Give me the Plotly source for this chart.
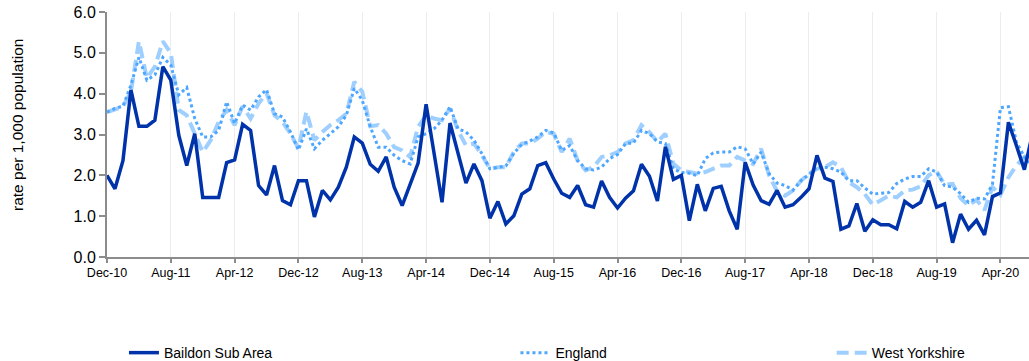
import pandas as pd
import plotly.graph_objects as go

months = list(pd.date_range("2010-12-01", periods=117, freq="MS").strftime("%b-%y"))

tick_labels = ["Dec-10", "Aug-11", "Apr-12", "Dec-12", "Aug-13", "Apr-14", "Dec-14", "Aug-15",
               "Apr-16", "Dec-16", "Aug-17", "Apr-18", "Dec-18", "Aug-19", "Apr-20"]

baildon = [2.00, 1.67, 2.36, 4.09, 3.20, 3.20, 3.35, 4.66, 4.33, 2.98, 2.24, 3.02, 1.46, 1.46, 1.46, 2.31,
           2.38, 3.25, 3.10, 1.75, 1.52, 2.24, 1.38, 1.28, 1.87, 1.87, 0.98, 1.63, 1.40, 1.71, 2.20, 2.94,
           2.79, 2.27, 2.10, 2.45, 1.71, 1.26, 1.79, 2.30, 3.74, 2.57, 1.34, 3.28, 2.57, 1.81, 2.28, 1.87,
           0.95, 1.36, 0.81, 1.01, 1.54, 1.67, 2.24, 2.31, 1.91, 1.56, 1.46, 1.75, 1.28, 1.22, 1.86, 1.46,
           1.20, 1.44, 1.62, 2.27, 1.98, 1.37, 2.70, 1.90, 2.00, 0.89, 1.78, 1.13, 1.68, 1.73, 1.13, 0.68,
           2.32, 1.76, 1.38, 1.29, 1.63, 1.22, 1.28, 1.46, 1.67, 2.49, 1.93, 1.85, 0.68, 0.76, 1.31, 0.63,
           0.91, 0.79, 0.79, 0.69, 1.36, 1.22, 1.34, 1.87, 1.22, 1.30, 0.35, 1.05, 0.68, 0.90, 0.54, 1.48,
           1.57, 3.30, 2.73, 2.14, 3.00]

england = [3.55, 3.64, 3.69, 4.21, 4.89, 4.33, 4.46, 4.89, 4.70, 3.97, 4.15, 3.39, 2.94, 2.94, 3.10, 3.80,
           3.27, 3.72, 3.60, 3.92, 4.10, 3.51, 3.43, 3.06, 2.62, 3.14, 2.65, 2.86, 3.02, 3.19, 3.47, 4.13,
           3.84, 3.19, 2.69, 2.69, 2.49, 2.36, 2.28, 2.94, 3.02, 3.14, 3.35, 3.68, 3.14, 3.06, 2.86, 2.53,
           2.16, 2.20, 2.23, 2.54, 2.76, 2.84, 2.94, 3.10, 3.04, 2.61, 2.73, 2.36, 2.16, 2.13, 2.20, 2.41,
           2.51, 2.78, 2.79, 3.10, 3.02, 2.82, 2.78, 2.16, 2.07, 2.05, 1.99, 2.41, 2.55, 2.57, 2.57, 2.70,
           2.65, 2.28, 2.57, 2.04, 1.81, 1.75, 1.64, 1.87, 2.02, 2.20, 2.20, 2.16, 2.08, 1.87, 1.87, 1.69,
           1.54, 1.56, 1.58, 1.80, 1.91, 1.97, 1.97, 2.16, 2.08, 1.75, 1.71, 1.55, 1.34, 1.44, 1.42, 1.78,
           3.66, 3.68, 2.82, 2.45, 2.25]

west_yorkshire = [3.55, 3.62, 3.68, 4.05, 5.28, 4.38, 4.66, 5.28, 4.99, 3.60, 3.47, 3.02, 2.57, 2.86, 3.31, 3.60,
                  3.23, 3.69, 3.39, 3.76, 4.01, 3.47, 3.31, 3.02, 2.66, 3.56, 2.86, 3.06, 3.23, 3.35, 3.51, 4.29,
                  4.05, 3.20, 3.23, 3.02, 2.69, 2.61, 2.45, 3.19, 3.47, 3.39, 3.35, 3.64, 3.10, 2.73, 2.78, 2.49,
                  2.16, 2.20, 2.20, 2.58, 2.78, 2.78, 2.90, 3.06, 3.02, 2.57, 2.90, 2.36, 2.12, 2.20, 2.45, 2.49,
                  2.57, 2.78, 2.86, 3.23, 3.06, 2.82, 3.02, 2.28, 2.12, 2.08, 2.04, 2.08, 2.16, 2.24, 2.24, 2.45,
                  2.36, 2.28, 2.65, 2.00, 1.61, 1.50, 1.63, 1.87, 2.04, 2.16, 2.20, 2.32, 2.20, 1.83, 1.71, 1.54,
                  1.28, 1.38, 1.50, 1.46, 1.63, 1.65, 1.73, 2.00, 2.10, 1.77, 1.79, 1.44, 1.26, 1.40, 1.15, 1.71,
                  1.52, 1.95, 2.24, 2.45, 2.60]

FONT = "Liberation Sans, Arial, sans-serif"

fig = go.Figure()
fig.add_trace(go.Scatter(x=months, y=west_yorkshire, name="West Yorkshire", mode="lines",
                         line=dict(color="#9fcfff", width=4, dash="12px,6px"), legend="legend3"))
fig.add_trace(go.Scatter(x=months, y=england, name="England", mode="lines",
                         line=dict(color="#4da6ff", width=3, dash="dot"), legend="legend2"))
fig.add_trace(go.Scatter(x=months, y=baildon, name="Baildon Sub Area", mode="lines",
                         line=dict(color="#0033aa", width=3.5), legend="legend"))

leg_common = dict(orientation="h", yanchor="middle", y=-0.392, xanchor="left",
                  font=dict(family=FONT, size=14, color="#000"), bgcolor="rgba(0,0,0,0)")

fig.update_layout(
    width=1029, height=361, autosize=False,
    showlegend=True,
    margin=dict(l=107, r=0, t=12, b=104, autoexpand=False),
    paper_bgcolor="white", plot_bgcolor="white",
    font=dict(family=FONT, color="#000"),
    legend=dict(x=0.0184, **leg_common),
    legend2=dict(x=0.443, **leg_common),
    legend3=dict(x=0.786, **leg_common),
    xaxis=dict(type="category", range=[0, 115.58], tickmode="array", tickvals=tick_labels,
               ticktext=tick_labels, showgrid=True, gridcolor="#ececec", gridwidth=1,
               showline=True, linecolor="#8c8c8c", linewidth=2, ticks="outside", ticklen=4,
               tickcolor="#8c8c8c", tickwidth=2, tickfont=dict(size=12.5, family=FONT, color="#000"),
               ticklabelstandoff=-1, ticklabeloverflow="allow",
               zeroline=False, fixedrange=True, automargin=False),
    yaxis=dict(range=[0, 6], tickmode="array", tickvals=[0, 1, 2, 3, 4, 5, 6],
               ticktext=["0.0", "1.0", "2.0", "3.0", "4.0", "5.0", "6.0"],
               showgrid=False, zeroline=False, showline=True, linecolor="#8c8c8c", linewidth=2,
               ticks="outside", ticklen=6, tickcolor="#8c8c8c", tickwidth=2,
               ticklabeloverflow="allow", fixedrange=True,
               tickfont=dict(size=16, family=FONT, color="#000"), automargin=False),
    annotations=[dict(text="rate per 1,000 population", textangle=-90, xref="paper", yref="paper",
                      x=-0.0965, y=0.539, xanchor="center", yanchor="middle", showarrow=False,
                      font=dict(size=15.5, family=FONT, color="#000"))],
)

fig.write_html("out.html", config={"displayModeBar": False},
               post_script="document.body.style.margin='0';document.body.style.overflow='hidden';")
